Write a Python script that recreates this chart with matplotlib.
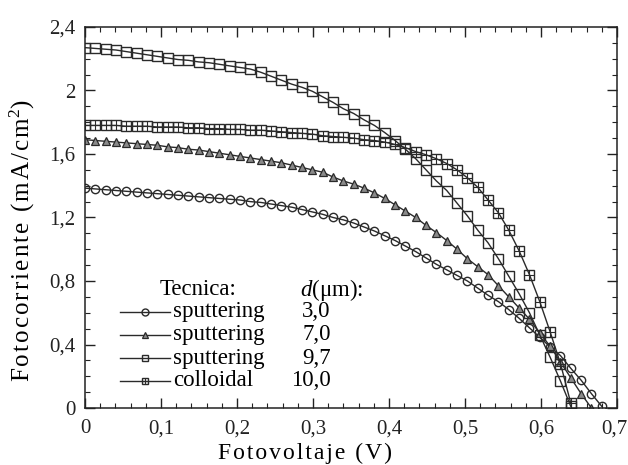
import numpy as np
import matplotlib
matplotlib.use("Agg")
import matplotlib.pyplot as plt
import matplotlib.transforms as mtransforms
from matplotlib.ticker import MultipleLocator, FixedLocator

plt.rcParams['font.family'] = ['Liberation Serif', 'DejaVu Serif']
plt.rcParams['mathtext.fontset'] = 'custom'
plt.rcParams['mathtext.rm'] = 'Liberation Serif'
plt.rcParams['mathtext.it'] = 'Liberation Serif:italic'

step = 0.0136  # voltage spacing of the measured points (V)

# Fotocorriente (mA/cm2)
i_sput_30 = [1.385, 1.38, 1.375, 1.37, 1.365, 1.36, 1.355, 1.35, 1.345, 1.34,
             1.335, 1.33, 1.325, 1.32, 1.315, 1.31, 1.30, 1.295, 1.285, 1.275,
             1.265, 1.25, 1.235, 1.22, 1.20, 1.185, 1.165, 1.14, 1.115, 1.085,
             1.055, 1.02, 0.985, 0.945, 0.905, 0.87, 0.835, 0.80, 0.755, 0.71,
             0.67, 0.62, 0.565, 0.505, 0.445, 0.385, 0.33, 0.25, 0.175, 0.09, 0.01]
i_sput_70 = [1.69, 1.685, 1.68, 1.675, 1.67, 1.665, 1.66, 1.655, 1.645, 1.64,
             1.63, 1.625, 1.615, 1.605, 1.595, 1.585, 1.575, 1.565, 1.555, 1.545,
             1.53, 1.515, 1.50, 1.485, 1.455, 1.43, 1.41, 1.385, 1.355, 1.32,
             1.28, 1.24, 1.20, 1.15, 1.105, 1.055, 1.00, 0.94, 0.89, 0.84,
             0.77, 0.70, 0.63, 0.56, 0.47, 0.39, 0.29, 0.19, 0.09, 0.0]
i_sput_97 = [2.27, 2.265, 2.26, 2.255, 2.245, 2.235, 2.225, 2.215, 2.205, 2.195,
             2.19, 2.18, 2.175, 2.165, 2.155, 2.145, 2.135, 2.115, 2.09, 2.065,
             2.04, 2.02, 1.995, 1.96, 1.925, 1.885, 1.855, 1.815, 1.78, 1.735,
             1.685, 1.63, 1.57, 1.50, 1.43, 1.37, 1.29, 1.21, 1.12, 1.04,
             0.94, 0.83, 0.72, 0.60, 0.46, 0.32, 0.17, 0.01]
i_coll_100 = [1.78, 1.78, 1.78, 1.78, 1.775, 1.775, 1.775, 1.77, 1.77, 1.77,
              1.765, 1.765, 1.76, 1.76, 1.755, 1.755, 1.75, 1.75, 1.745, 1.74,
              1.735, 1.73, 1.725, 1.715, 1.71, 1.705, 1.70, 1.69, 1.685, 1.675,
              1.66, 1.64, 1.615, 1.595, 1.57, 1.54, 1.50, 1.45, 1.39, 1.31,
              1.23, 1.12, 0.99, 0.84, 0.67, 0.48, 0.28, 0.03]

tecnica = ['sputtering', 'sputtering', 'sputtering', 'colloidal']
espesor = ['3,0', '7,0', '9,7', '10,0']
xticks = [0, 0.1, 0.2, 0.3, 0.4, 0.5, 0.6, 0.7]
xticklabels = ['0', '0,1', '0,2', '0,3', '0,4', '0,5', '0,6', '0,7']
yticks = [0, 0.4, 0.8, 1.2, 1.6, 2.0, 2.4]
yticklabels = ['0', '0,4', '0,8', '1,2', '1,6', '2', '2,4']


def spaced(s, sep='\u200a'):
    # wide letter spacing like the scanned original
    return sep.join(s)


fig = plt.figure(figsize=(6.28, 4.65), dpi=100)
ax = fig.add_axes([85/628, 1-408/465, 532/628, 381/465])

lc = '#2a2a2a'
series = [i_sput_30, i_sput_70, i_sput_97, i_coll_100]
styles = [
    dict(marker='o', ms=6, mfc='none', mec=lc, mew=1.0),
    dict(marker='^', ms=6, mfc='#8a8a8a', mec=lc, mew=0.9),
    dict(marker='s', ms=7, mfc='none', mec=lc, mew=1.0),
    dict(marker='s', ms=7, mfc='none', mec=lc, mew=1.0),
]
for y, st in zip(series, styles):
    v = np.arange(len(y)) * step
    ax.plot(v, y, color=lc, lw=1.0, **st)
# cross inside colloidal squares
vcoll = np.arange(len(i_coll_100)) * step
ax.plot(vcoll, i_coll_100, ls='none', marker='+', ms=7, mec=lc, mew=0.8)

ax.set_xlim(0, 0.7)
ax.set_ylim(0, 2.4)
ax.xaxis.set_major_locator(FixedLocator(xticks))
ax.set_xticklabels(xticklabels)
ax.yaxis.set_major_locator(FixedLocator(yticks))
ax.set_yticklabels(yticklabels)
ax.xaxis.set_minor_locator(MultipleLocator(0.02))
ax.yaxis.set_minor_locator(MultipleLocator(0.1))
ax.tick_params(which='both', direction='in', top=True, right=True, labelsize=15, colors='#222222')
ax.tick_params(which='major', length=7, width=1)
ax.tick_params(which='minor', length=3.5, width=0.8)
ax.tick_params(axis='x', pad=8)
ax.tick_params(axis='y', pad=7)
for s in ax.spines.values():
    s.set_linewidth(1.1)
    s.set_color('#222222')

# keep the last x tick label inside the canvas
last = ax.get_xticklabels()[-1]
last.set_transform(last.get_transform() +
                   mtransforms.ScaledTranslation(-3/100, 0, fig.dpi_scale_trans))

ax.set_xlabel(spaced('Fotovoltaje (V)'), fontsize=17)
ax.xaxis.set_label_coords(0.414, -0.092)
ax.set_ylabel(spaced('Fotocorriente (mA/cm') + '$^{2}$)', fontsize=18)
ax.yaxis.set_label_coords(-0.09, 0.44)

# legend drawn as a text table
fs = 16.5
ax.text(0.141, 0.31, 'Tecnica:', transform=ax.transAxes, fontsize=fs, va='center')
ax.text(0.404, 0.31, r'$d$(μm):', transform=ax.transAxes, fontsize=fs, va='center')
rows = [0.252, 0.192, 0.131, 0.071]
for yr, st, tec, d in zip(rows, styles, tecnica, espesor):
    leg_st = dict(st)
    leg_st['ms'] = 5
    ax.plot([0.066, 0.113, 0.160], [yr, yr, yr], transform=ax.transAxes,
            color=lc, lw=1.0, markevery=[1], clip_on=False, **leg_st)
    ax.text(0.166, yr, tec, transform=ax.transAxes, fontsize=fs, va='center')
    ax.text(0.462, yr, d, transform=ax.transAxes, fontsize=fs, va='center', ha='right')
ax.plot([0.113], [rows[3]], transform=ax.transAxes, ls='none', marker='+', ms=5, mec=lc, mew=0.8)

fig.savefig('out.png', dpi=100)
